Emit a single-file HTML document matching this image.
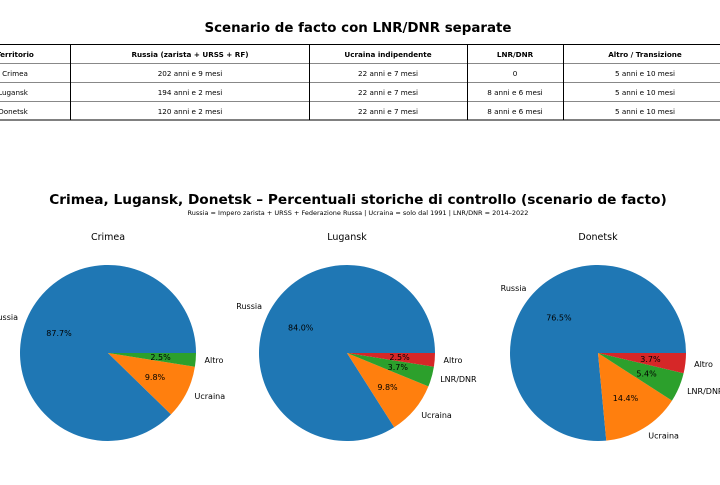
<!DOCTYPE html>
<html><head><meta charset="utf-8"><style>
body{margin:0;background:#fff;width:720px;height:480px;overflow:hidden}
svg{font-family:"DejaVu Sans","Liberation Sans",sans-serif}
</style></head><body>
<svg width="720" height="480" viewBox="0 0 720 480" xmlns="http://www.w3.org/2000/svg">
<text x="358" y="32" text-anchor="middle" font-size="13.4" font-weight="bold">Scenario de facto con LNR/DNR separate</text>
<g stroke="#000" stroke-width="1" fill="none">
<rect x="-10" y="44.5" width="740" height="75.5"/>
<line x1="-10" y1="63.5" x2="730" y2="63.5" stroke="#888"/>
<line x1="-10" y1="82.5" x2="730" y2="82.5" stroke="#888"/>
<line x1="-10" y1="101.5" x2="730" y2="101.5" stroke="#888"/>
<line x1="70.5" y1="44" x2="70.5" y2="120"/>
<line x1="309.5" y1="44" x2="309.5" y2="120"/>
<line x1="467.5" y1="44" x2="467.5" y2="120"/>
<line x1="563.5" y1="44" x2="563.5" y2="120"/>
</g>
<g font-size="7.2" text-anchor="middle">
<g font-weight="bold"><text x="15" y="57">Territorio</text><text x="190" y="57">Russia (zarista + URSS + RF)</text><text x="388" y="57">Ucraina indipendente</text><text x="515" y="57">LNR/DNR</text><text x="645" y="57">Altro / Transizione</text></g>
<text x="15" y="76">Crimea</text><text x="190" y="76">202 anni e 9 mesi</text><text x="388" y="76">22 anni e 7 mesi</text><text x="515" y="76">0</text><text x="645" y="76">5 anni e 10 mesi</text>
<text x="13" y="95">Lugansk</text><text x="190" y="95">194 anni e 2 mesi</text><text x="388" y="95">22 anni e 7 mesi</text><text x="515" y="95">8 anni e 6 mesi</text><text x="645" y="95">5 anni e 10 mesi</text>
<text x="13" y="114">Donetsk</text><text x="190" y="114">120 anni e 2 mesi</text><text x="388" y="114">22 anni e 7 mesi</text><text x="515" y="114">8 anni e 6 mesi</text><text x="645" y="114">5 anni e 10 mesi</text>
</g>
<text x="358" y="204" text-anchor="middle" font-size="13.7" font-weight="bold">Crimea, Lugansk, Donetsk – Percentuali storiche di controllo (scenario de facto)</text>
<text x="358" y="215" text-anchor="middle" font-size="6.5">Russia = Impero zarista + URSS + Federazione Russa | Ucraina = solo dal 1991 | LNR/DNR = 2014–2022</text>
<g font-size="9.5" text-anchor="middle"><text x="108" y="240">Crimea</text><text x="347" y="240">Lugansk</text><text x="598" y="240">Donetsk</text></g>
<path d="M108 353 L196 353 A88 88 0 1 0 171 414.4Z" fill="#1f77b4"/>
<path d="M108 353 L171 414.4 A88 88 0 0 0 194.9 366.8Z" fill="#ff7f0e"/>
<path d="M108 353 L194.9 366.8 A88 88 0 0 0 196 353Z" fill="#2ca02c"/>
<g font-size="8">
<text x="18" y="320" text-anchor="end">Russia</text><text x="59" y="336" text-anchor="middle">87.7%</text>
<text x="194.5" y="399">Ucraina</text><text x="155" y="380" text-anchor="middle">9.8%</text>
<text x="204.5" y="363">Altro</text><text x="160.6" y="360" text-anchor="middle">2.5%</text>
</g>
<path d="M347 353 L435 353 A88 88 0 1 0 394.2 427.3Z" fill="#1f77b4"/>
<path d="M347 353 L394.2 427.3 A88 88 0 0 0 428.4 386.4Z" fill="#ff7f0e"/>
<path d="M347 353 L428.4 386.4 A88 88 0 0 0 433.9 366.8Z" fill="#2ca02c"/>
<path d="M347 353 L433.9 366.8 A88 88 0 0 0 435 353Z" fill="#d62728"/>
<g font-size="8">
<text x="262" y="309" text-anchor="end">Russia</text><text x="300.7" y="330.5" text-anchor="middle">84.0%</text>
<text x="421.2" y="418">Ucraina</text><text x="387.5" y="390" text-anchor="middle">9.8%</text>
<text x="440.2" y="382">LNR/DNR</text><text x="397.8" y="370" text-anchor="middle">3.7%</text>
<text x="443.5" y="363">Altro</text><text x="399.6" y="360" text-anchor="middle">2.5%</text>
</g>
<path d="M598 353 L686 353 A88 88 0 1 0 606.3 440.6Z" fill="#1f77b4"/>
<path d="M598 353 L606.3 440.6 A88 88 0 0 0 672 400.6Z" fill="#ff7f0e"/>
<path d="M598 353 L672 400.6 A88 88 0 0 0 683.6 373.3Z" fill="#2ca02c"/>
<path d="M598 353 L683.6 373.3 A88 88 0 0 0 686 353Z" fill="#d62728"/>
<g font-size="8">
<text x="526.4" y="291" text-anchor="end">Russia</text><text x="558.9" y="320.5" text-anchor="middle">76.5%</text>
<text x="648.3" y="438.5">Ucraina</text><text x="625.5" y="401" text-anchor="middle">14.4%</text>
<text x="687.1" y="394">LNR/DNR</text><text x="646.6" y="376.5" text-anchor="middle">5.4%</text>
<text x="694.1" y="367">Altro</text><text x="650.4" y="362" text-anchor="middle">3.7%</text>
</g>
</svg>
</body></html>
